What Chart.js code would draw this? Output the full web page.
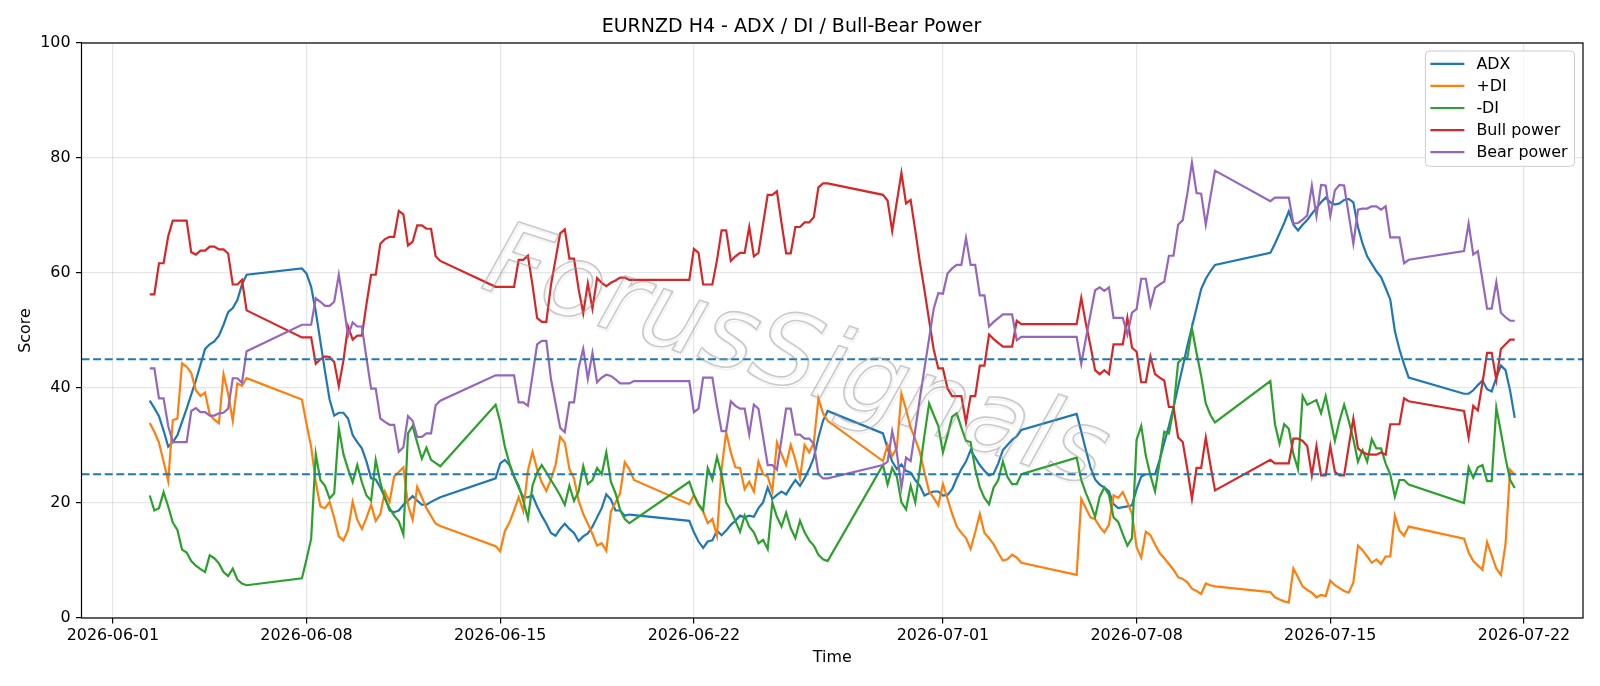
<!DOCTYPE html>
<html>
<head>
<meta charset="utf-8">
<script src="https://cdn.jsdelivr.net/npm/chart.js@4.4.1/dist/chart.umd.min.js"></script>
<style>
  html, body { margin: 0; padding: 0; background: #fff; }
  #wrap { width: 1600px; height: 686px; }
</style>
</head>
<body>
<div id="wrap"><canvas id="chart" width="1600" height="686"></canvas></div>
<script>
// x = H4 bar number counted from 2026-06-01 00:00 (one bar = 4 hours)
const tickBars   = [0, 42, 84, 126, 180, 222, 264, 306];
const tickLabels = ['2026-06-01', '2026-06-08', '2026-06-15', '2026-06-22',
                    '2026-07-01', '2026-07-08', '2026-07-15', '2026-07-22'];
const levels = [25, 45];

const adx = [
  [8,37.8],[9,36.5],[10,35.1],[11,32.6],[12,29.8],[13,30.6],[14,31.8],[16,36.4],[18,41.3],[20,46.8],[21,47.6],[22,48.1],[23,49.1],[24,51.0],[25,53.2],[26,53.9],[27,55.3],[28,58.0],[29,59.7],
  [41,60.8],[42,59.9],[43,57.6],[44,53.3],[45,48.1],[46,42.9],[47,38.0],[48,35.2],[49,35.7],[50,35.7],[51,34.7],[52,31.8],[53,30.6],[54,29.5],[55,27.2],[56,24.3],[57,24.1],[58,22.7],[59,21.0],[60,18.7],[61,18.4],[62,18.7],[63,19.7],[64,20.4],[65,21.2],[66,20.4],[67,19.7],[68,19.7],[69,20.2],[71,21.0],
  [83,24.3],[84,26.9],[85,27.5],[86,26.6],[87,24.6],[88,22.7],[89,21.0],[90,21.0],[91,21.3],[92,19.4],[93,17.8],[94,16.4],[95,14.8],[96,14.3],[97,15.5],[98,16.4],[99,15.5],[100,14.8],[101,13.4],[102,14.2],[103,14.7],[104,15.9],[105,17.5],[106,19.1],[107,21.5],[108,20.6],[109,18.7],[110,18.7],[111,17.8],[112,18.0],[113,17.9],
  [125,16.9],[126,14.9],[127,13.3],[128,12.2],[129,13.3],[130,13.5],[131,15.2],[132,14.4],[133,15.2],[134,16.2],[135,16.9],[136,17.8],[137,17.5],[138,17.8],[139,17.6],[140,19.1],[141,20.1],[142,22.7],[143,20.7],[144,21.4],[145,22.0],[146,21.5],[147,22.8],[148,24.0],[149,23.0],[150,24.3],[151,25.9],[152,27.9],[153,31.4],[154,34.3],[155,36.0],
  [167,32.1],[168,29.5],[169,27.2],[170,25.9],[171,26.7],[172,25.6],[173,25.3],[174,24.0],[175,23.0],[176,21.3],[177,21.7],[178,22.0],[179,22.0],[180,21.3],[181,21.4],[182,22.4],[183,24.3],[184,25.9],[185,27.2],[186,29.2],[187,27.9],[188,26.6],[189,25.6],[190,24.8],[191,25.1],[192,26.9],[193,29.2],[194,30.1],[195,31.0],[196,31.6],[197,32.7],
  [209,35.5],[210,32.4],[211,29.2],[212,26.2],[213,24.1],[214,23.2],[215,22.7],[216,22.0],[217,19.8],[218,19.1],[220,19.4],[221,19.6],[222,22.4],[223,24.6],[224,25.0],[226,25.0],[227,27.5],[228,30.5],[229,33.4],[230,36.6],[231,40.2],[232,43.7],[233,47.3],[234,50.6],[235,53.9],[236,57.2],[237,59.0],[238,60.3],[239,61.4],
  [251,63.5],[252,65.1],[253,66.9],[254,68.7],[255,70.7],[256,68.4],[257,67.4],[258,68.4],[259,69.2],[260,70.3],[261,71.3],[262,72.3],[263,73.1],[264,72.3],[265,71.9],[266,72.1],[267,72.7],[268,72.9],[269,72.3],[270,68.0],[271,65.1],[272,62.9],[273,61.6],[274,60.3],[275,59.3],[276,57.4],[277,55.4],[278,49.9],[279,46.7],[280,44.1],[281,41.8],
  [293,39.0],[294,39.0],[295,39.6],[296,40.5],[297,41.3],[298,39.8],[299,39.4],[300,41.8],[301,43.9],[302,43.1],[303,39.5],[304,34.8]
];

const plusDI = [
  [8,33.9],[9,32.4],[10,30.5],[11,27.2],[12,23.8],[13,34.4],[14,34.7],[15,44.3],[16,43.7],[17,42.6],[18,39.6],[19,38.6],[20,39.2],[21,35.4],[22,34.5],[23,33.9],[24,42.4],[25,39.0],[26,34.3],[27,40.8],[28,40.4],[29,41.7],
  [41,38.0],[42,33.7],[43,29.8],[44,23.6],[45,19.4],[46,19.1],[47,20.2],[48,17.4],[49,14.2],[50,13.5],[51,15.3],[52,20.2],[53,17.1],[54,15.5],[55,17.4],[56,19.7],[57,16.9],[58,18.1],[59,22.0],[60,20.2],[61,24.6],[62,25.4],[63,26.2],[64,19.7],[65,17.1],[66,22.8],[67,21.0],[68,19.1],[70,16.4],[71,16.0],
  [83,12.5],[84,11.6],[85,15.1],[86,16.6],[87,18.7],[88,21.0],[89,18.6],[90,25.6],[91,28.9],[92,25.9],[93,23.6],[94,22.1],[95,24.1],[96,26.6],[97,31.5],[98,30.5],[99,25.9],[100,24.3],[101,20.4],[102,18.1],[103,16.4],[104,14.6],[105,12.6],[106,13.0],[107,11.7],[108,18.5],[109,20.1],[110,21.7],[111,27.1],[112,25.9],[113,24.0],
  [125,19.8],[126,21.4],[127,19.6],[128,18.5],[129,16.5],[130,17.2],[131,14.3],[132,25.9],[133,32.3],[134,28.8],[135,26.2],[136,26.1],[137,22.4],[138,23.7],[139,22.0],[140,27.2],[141,25.0],[142,24.6],[143,22.0],[144,30.5],[145,28.5],[146,26.6],[147,30.1],[148,27.5],[149,24.3],[150,30.1],[151,28.8],[152,30.5],[153,38.2],[154,35.6],[155,34.3],
  [167,27.3],[168,30.1],[169,28.2],[170,29.5],[171,39.0],[172,36.3],[173,33.1],[174,31.1],[175,28.8],[176,25.3],[177,22.0],[178,20.9],[179,19.6],[180,23.3],[181,20.7],[182,18.1],[183,15.9],[184,14.8],[185,13.9],[186,12.0],[187,14.9],[188,18.1],[189,14.8],[190,13.9],[191,12.8],[192,11.3],[193,10.0],[194,10.2],[195,11.0],[196,10.5],[197,9.6],
  [209,7.5],[210,20.7],[211,19.1],[212,17.5],[213,17.2],[214,15.9],[215,14.9],[216,16.2],[217,21.3],[218,20.9],[219,21.9],[220,20.1],[221,18.1],[222,12.3],[223,10.5],[224,15.0],[225,14.4],[226,12.8],[227,11.3],[228,10.4],[229,9.4],[230,8.4],[231,7.1],[232,6.8],[233,6.2],[234,5.1],[235,4.7],[236,4.2],[237,6.0],[238,5.7],[239,5.5],
  [251,4.5],[252,3.6],[253,3.2],[254,2.9],[255,2.7],[256,8.6],[257,7.1],[258,5.5],[259,4.9],[260,4.4],[261,3.6],[262,4.0],[263,3.8],[264,6.5],[265,5.7],[266,5.2],[267,4.7],[268,4.4],[269,6.2],[270,12.6],[271,11.8],[272,10.7],[273,9.6],[274,10.2],[275,9.4],[276,10.7],[277,10.7],[278,17.8],[279,15.2],[280,14.3],[281,15.9],
  [293,13.8],[294,11.4],[295,9.9],[297,8.4],[298,13.2],[299,10.9],[300,8.6],[301,7.5],[302,12.9],[303,25.8],[304,24.9]
];

const minusDI = [
  [8,21.3],[9,18.7],[10,19.1],[11,21.9],[12,19.4],[13,16.6],[14,15.3],[15,11.9],[16,11.4],[17,9.9],[18,9.1],[19,8.5],[20,8.0],[21,10.9],[22,10.4],[23,9.5],[24,8.0],[25,7.3],[26,8.6],[27,6.7],[28,6.0],[29,5.7],
  [41,6.9],[42,10.2],[43,13.8],[44,28.5],[45,24.0],[46,23.0],[47,20.8],[48,21.7],[49,33.0],[50,28.5],[51,25.9],[52,23.6],[53,26.6],[54,23.6],[55,21.3],[56,20.4],[57,27.5],[58,23.6],[59,20.7],[60,19.1],[61,17.8],[62,16.8],[63,14.5],[64,32.1],[65,33.4],[66,30.5],[67,27.7],[68,29.6],[69,27.5],[71,26.4],
  [83,37.1],[84,34.1],[85,29.8],[86,26.9],[87,24.6],[88,23.0],[89,20.4],[90,17.3],[91,23.0],[92,25.3],[93,26.6],[94,25.3],[95,24.0],[96,22.7],[97,21.3],[98,19.7],[99,23.0],[100,20.4],[101,22.0],[102,26.4],[103,23.3],[104,24.0],[105,26.1],[106,25.0],[107,28.8],[108,23.7],[109,21.7],[110,18.8],[111,17.2],[112,16.5],
  [125,23.7],[126,21.4],[127,19.8],[128,18.7],[129,26.1],[130,24.1],[131,28.0],[132,25.0],[133,20.1],[134,18.7],[135,16.9],[136,15.0],[137,17.8],[138,15.9],[139,14.9],[140,13.0],[141,13.6],[142,12.0],[143,20.1],[144,17.6],[145,15.9],[146,18.3],[147,15.6],[148,13.9],[149,16.9],[150,14.9],[151,13.5],[152,12.6],[153,11.0],[154,10.2],[155,9.9],
  [167,26.6],[168,23.2],[169,26.1],[170,24.6],[171,20.1],[172,18.9],[173,23.0],[174,20.1],[175,25.9],[176,31.8],[177,37.3],[178,35.3],[179,33.4],[180,28.8],[181,31.8],[182,35.0],[183,35.6],[184,33.1],[185,30.8],[186,30.6],[187,25.9],[188,22.7],[189,20.9],[190,19.8],[191,22.7],[192,24.0],[193,27.2],[194,24.5],[195,23.3],[196,23.3],[197,25.0],
  [209,27.9],[210,24.0],[211,21.7],[212,19.8],[213,17.6],[214,21.1],[215,22.7],[216,21.4],[217,17.5],[218,16.7],[219,14.6],[220,12.6],[221,13.9],[222,31.0],[223,33.4],[224,28.2],[225,24.8],[226,22.0],[227,27.2],[228,32.4],[229,32.1],[230,36.3],[231,44.4],[232,45.2],[233,45.2],[234,50.4],[235,46.1],[236,42.1],[237,37.3],[238,35.3],[239,34.0],
  [251,41.2],[252,33.7],[253,30.3],[254,33.7],[255,32.9],[256,28.5],[257,25.9],[258,38.6],[259,37.1],[260,37.5],[261,37.9],[262,35.6],[263,38.6],[264,34.7],[265,30.8],[266,34.3],[267,37.1],[268,34.3],[269,31.1],[270,27.2],[271,29.2],[272,27.2],[273,31.1],[274,29.5],[275,29.5],[276,26.9],[277,25.0],[278,21.1],[279,24.0],[280,24.0],[281,23.2],
  [293,20.0],[294,26.2],[295,24.4],[296,26.2],[297,26.6],[298,23.8],[299,23.8],[300,36.6],[301,32.3],[302,27.8],[303,24.0],[304,22.6]
];

const bullPower = [
  [8,56.3],[9,56.3],[10,61.7],[11,61.7],[12,66.4],[13,69.1],[16,69.1],[17,63.6],[18,63.2],[19,63.9],[20,63.9],[21,64.6],[22,64.6],[23,64.1],[24,64.1],[25,63.4],[26,58.0],[27,58.0],[28,58.8],[29,53.5],
  [41,48.8],[43,48.8],[44,44.2],[45,45.0],[46,45.5],[47,45.4],[48,44.5],[49,40.3],[50,44.8],[51,50.7],[52,48.4],[53,49.1],[54,49.1],[55,54.6],[56,59.7],[57,59.7],[58,65.1],[59,65.9],[60,66.3],[61,66.3],[62,70.8],[63,70.2],[64,64.8],[65,65.4],[66,68.3],[67,68.3],[68,67.7],[69,67.7],[70,62.9],[71,62.1],
  [83,57.6],[87,57.6],[88,62.3],[89,62.3],[90,63.0],[91,57.9],[92,52.2],[93,51.5],[94,51.5],[95,57.9],[97,66.9],[98,67.6],[99,62.5],[100,62.5],[101,57.2],[102,53.0],[103,58.2],[104,53.8],[105,59.1],[106,58.3],[107,57.7],[108,58.3],[109,58.7],[110,59.2],[111,59.2],[112,58.8],[113,58.8],
  [125,58.8],[126,64.2],[127,63.5],[128,58.0],[130,58.0],[131,62.2],[132,67.4],[133,67.4],[134,62.1],[135,62.9],[136,63.5],[137,63.5],[138,68.0],[139,62.9],[140,63.5],[142,73.6],[143,73.6],[144,74.2],[145,68.7],[146,63.4],[147,63.4],[148,68.0],[149,68.0],[150,68.8],[151,68.8],[152,69.7],[153,74.9],[154,75.6],[155,75.6],
  [167,73.6],[168,72.6],[169,67.3],[171,77.4],[172,72.1],[173,72.7],[174,67.4],[175,61.9],[176,57.0],[177,51.8],[178,46.7],[179,43.4],[180,43.4],[181,39.9],[182,38.6],[184,38.6],[185,34.0],[186,38.6],[187,38.6],[188,43.9],[189,43.9],[190,49.3],[191,48.5],[193,47.2],[195,47.2],[196,51.7],[197,51.1],
  [209,51.1],[210,55.7],[211,51.2],[212,47.3],[213,43.1],[214,42.4],[215,43.1],[216,42.4],[217,47.6],[219,47.6],[220,52.2],[221,47.0],[222,46.3],[223,41.0],[224,41.0],[225,45.5],[226,42.4],[227,41.8],[228,41.3],[229,36.7],[230,36.7],[231,31.4],[232,30.6],[233,25.9],[234,20.7],[235,26.1],[236,26.1],[237,31.4],[238,26.6],[239,22.2],
  [251,27.5],[252,26.9],[255,26.9],[256,31.2],[257,31.2],[258,30.8],[259,29.9],[260,24.8],[261,29.9],[262,24.8],[263,24.8],[264,29.9],[265,25.4],[266,24.8],[267,24.8],[268,29.9],[269,34.7],[270,29.5],[271,28.8],[272,28.5],[273,28.4],[274,28.4],[275,28.8],[276,28.4],[277,33.7],[279,33.7],[280,38.2],[281,37.7],
  [293,36.0],[294,31.4],[295,36.9],[296,36.1],[297,40.9],[298,46.1],[299,46.1],[300,41.4],[301,46.8],[302,47.6],[303,48.4],[304,48.4]
];

const bearPower = [
  [8,43.4],[9,43.4],[10,38.2],[11,38.2],[12,33.4],[13,30.6],[16,30.6],[17,36.0],[18,36.5],[19,35.8],[20,35.8],[21,35.2],[22,35.2],[23,35.6],[24,35.7],[25,36.4],[26,41.7],[27,41.7],[28,40.9],[29,46.4],
  [41,51.0],[43,51.0],[44,55.6],[45,55.0],[46,54.3],[47,54.3],[48,55.0],[49,59.7],[50,54.6],[51,49.1],[52,51.4],[53,50.7],[54,50.7],[55,45.2],[56,39.9],[57,39.9],[58,34.7],[59,34.1],[60,33.6],[61,33.6],[62,28.9],[63,29.7],[64,35.1],[65,34.3],[66,31.5],[67,31.5],[68,32.1],[69,32.1],[70,37.0],[71,37.8],
  [83,42.2],[87,42.2],[88,37.5],[89,37.5],[90,36.9],[91,42.2],[92,47.6],[93,48.2],[94,48.2],[95,41.6],[97,33.1],[98,32.3],[99,37.5],[100,37.5],[101,43.5],[102,46.8],[103,41.6],[104,46.1],[105,41.0],[106,41.8],[107,42.3],[108,42.1],[109,41.5],[110,40.8],[112,40.8],[113,41.2],
  [125,41.2],[126,35.8],[127,36.4],[128,41.8],[130,41.8],[131,36.9],[132,32.5],[133,32.5],[134,37.7],[135,36.9],[136,36.4],[137,36.4],[138,31.9],[139,37.1],[140,36.4],[142,26.6],[143,26.6],[144,25.8],[145,31.1],[146,36.4],[147,36.4],[148,31.9],[149,31.9],[150,31.2],[151,31.2],[152,30.3],[153,25.0],[154,24.3],[155,24.3],
  [167,26.6],[168,27.2],[169,32.5],[170,28.8],[171,22.7],[172,27.9],[173,27.3],[174,32.7],[175,38.2],[176,43.4],[177,48.6],[178,53.8],[179,56.5],[180,56.4],[181,59.9],[182,60.8],[183,61.4],[184,61.4],[185,66.1],[186,61.4],[187,61.4],[188,56.1],[189,56.1],[190,50.7],[191,51.5],[193,52.8],[195,52.8],[196,48.3],[197,48.9],
  [209,48.9],[210,44.2],[211,48.6],[212,52.8],[213,57.0],[214,57.5],[215,56.9],[216,57.5],[217,52.2],[219,52.2],[220,49.3],[221,53.1],[222,53.7],[223,59.0],[224,59.0],[225,54.3],[226,57.4],[227,58.0],[228,58.5],[229,63.0],[230,63.0],[231,68.4],[232,69.2],[233,73.8],[234,79.2],[235,73.9],[236,73.8],[237,68.4],[238,73.2],[239,77.8],
  [251,72.5],[252,73.1],[255,73.1],[256,68.6],[257,68.7],[258,69.3],[259,70.0],[260,75.2],[261,69.9],[262,75.3],[263,75.2],[264,69.9],[265,74.4],[266,75.3],[267,75.2],[268,70.1],[269,65.1],[270,71.0],[271,71.2],[272,71.2],[273,71.6],[274,71.6],[275,71.0],[276,71.6],[277,66.2],[279,66.2],[280,61.7],[281,62.3],
  [293,63.8],[294,68.6],[295,63.2],[296,63.8],[297,58.8],[298,53.8],[299,53.8],[300,58.4],[301,53.1],[302,52.3],[303,51.7],[304,51.7]
];

const FONT   = 'DejaVu Sans';
const X_MIN  = -6.8;
const X_MAX  = 318.8;
const GRID   = 'rgba(176,176,176,0.32)';

const series = [
    { label: 'ADX',        pts: adx,       color: '#1f77b4' },
    { label: '+DI',        pts: plusDI,    color: '#ff7f0e' },
    { label: '-DI',        pts: minusDI,   color: '#2ca02c' },
    { label: 'Bull power', pts: bullPower, color: '#d62728' },
    { label: 'Bear power', pts: bearPower, color: '#9467bd' },
];

// later series sit on top, like the original plot order
const datasets = series.map((s, i) => ({
    label: s.label,
    data: s.pts.map(([x, y]) => ({ x, y })),
    borderColor: s.color,
    borderWidth: 2.2,
    pointRadius: 0,
    tension: 0,
    fill: false,
    order: 10 - i
}));

levels.forEach(lv => datasets.push({
    label: 'level ' + lv,
    data: [{ x: X_MIN, y: lv }, { x: X_MAX, y: lv }],
    borderColor: '#1f77b4',
    borderWidth: 1.8,
    borderDash: [8, 3.6],
    pointRadius: 0,
    fill: false,
    order: 0
}));

const decor = {
    id: 'decor',
    afterDatasetsDraw(chart) {
        const { ctx, chartArea: a } = chart;

        // watermark
        ctx.save();
        ctx.translate(795, 362);
        ctx.rotate(18 * Math.PI / 180);
        ctx.font = `italic 102px ${FONT}`;
        ctx.textAlign = 'center';
        ctx.textBaseline = 'middle';
        ctx.lineWidth = 1.6;
        ctx.strokeStyle = 'rgba(0,0,0,0.05)';
        ctx.strokeText('ForusSignals', 2, 2);
        ctx.strokeStyle = 'rgba(150,150,150,0.5)';
        ctx.strokeText('ForusSignals', 0, 0);
        ctx.restore();

        // frame
        ctx.save();
        ctx.strokeStyle = '#000';
        ctx.lineWidth = 1.2;
        ctx.strokeRect(a.left, a.top, a.right - a.left, a.bottom - a.top);
        ctx.restore();
    },
    afterDraw(chart) {
        const { ctx, chartArea: a } = chart;
        ctx.save();
        ctx.font = `15.9px ${FONT}`;
        const textW = Math.max(...series.map(s => ctx.measureText(s.label).width));
        const w = 51 + textW + 7;
        const h = 115.3;
        const x0 = a.right - 8.5 - w;
        const y0 = a.top + 8;

        ctx.beginPath();
        ctx.roundRect(x0, y0, w, h, 4);
        ctx.fillStyle = 'rgba(255,255,255,0.8)';
        ctx.fill();
        ctx.strokeStyle = '#cccccc';
        ctx.lineWidth = 1;
        ctx.stroke();

        ctx.textBaseline = 'middle';
        series.forEach((s, i) => {
            const y = y0 + 12.8 + i * 22.1;
            ctx.beginPath();
            ctx.moveTo(x0 + 5, y);
            ctx.lineTo(x0 + 39, y);
            ctx.strokeStyle = s.color;
            ctx.lineWidth = 2.2;
            ctx.stroke();
            ctx.fillStyle = '#000';
            ctx.fillText(s.label, x0 + 51, y + 1);
        });
        ctx.restore();
    }
};

new Chart(document.getElementById('chart'), {
    type: 'line',
    data: { datasets },
    options: {
        responsive: false,
        devicePixelRatio: 1,
        animation: false,
        events: [],
        layout: { padding: { left: 0, right: 17, top: 0, bottom: 0 } },
        plugins: {
            legend: { display: false },
            tooltip: { enabled: false },
            title: {
                display: true,
                text: 'EURNZD H4 - ADX / DI / Bull-Bear Power',
                color: '#000',
                font: { family: FONT, size: 19, weight: 'normal' },
                padding: { top: 15.5, bottom: 4.7 }
            }
        },
        scales: {
            x: {
                type: 'linear',
                min: X_MIN,
                max: X_MAX,
                afterBuildTicks: s => { s.ticks = tickBars.map(v => ({ value: v })); },
                afterFit: s => { s.height = 68; },
                ticks: {
                    autoSkip: false,
                    maxRotation: 0,
                    color: '#000',
                    font: { family: FONT, size: 15.9 },
                    padding: 3,
                    callback: (v, i) => tickLabels[i]
                },
                grid: { color: GRID, lineWidth: 1.2, tickLength: 5.5, tickColor: '#000', tickWidth: 1.2 },
                border: { display: false },
                title: {
                    display: true, text: 'Time', color: '#000',
                    font: { family: FONT, size: 15.9 },
                    padding: { top: 0, bottom: 18.5 }
                }
            },
            y: {
                min: 0,
                max: 100,
                afterFit: s => { s.width = 81.5; },
                ticks: {
                    stepSize: 20,
                    color: '#000',
                    font: { family: FONT, size: 15.9 },
                    padding: 5.5
                },
                grid: { color: GRID, lineWidth: 1.2, tickLength: 5.5, tickColor: '#000', tickWidth: 1.2 },
                border: { display: false },
                title: {
                    display: true, text: 'Score', color: '#000',
                    font: { family: FONT, size: 15.9 },
                    padding: { top: 16, bottom: 0 }
                }
            }
        }
    },
    plugins: [decor]
});
</script>
</body>
</html>
